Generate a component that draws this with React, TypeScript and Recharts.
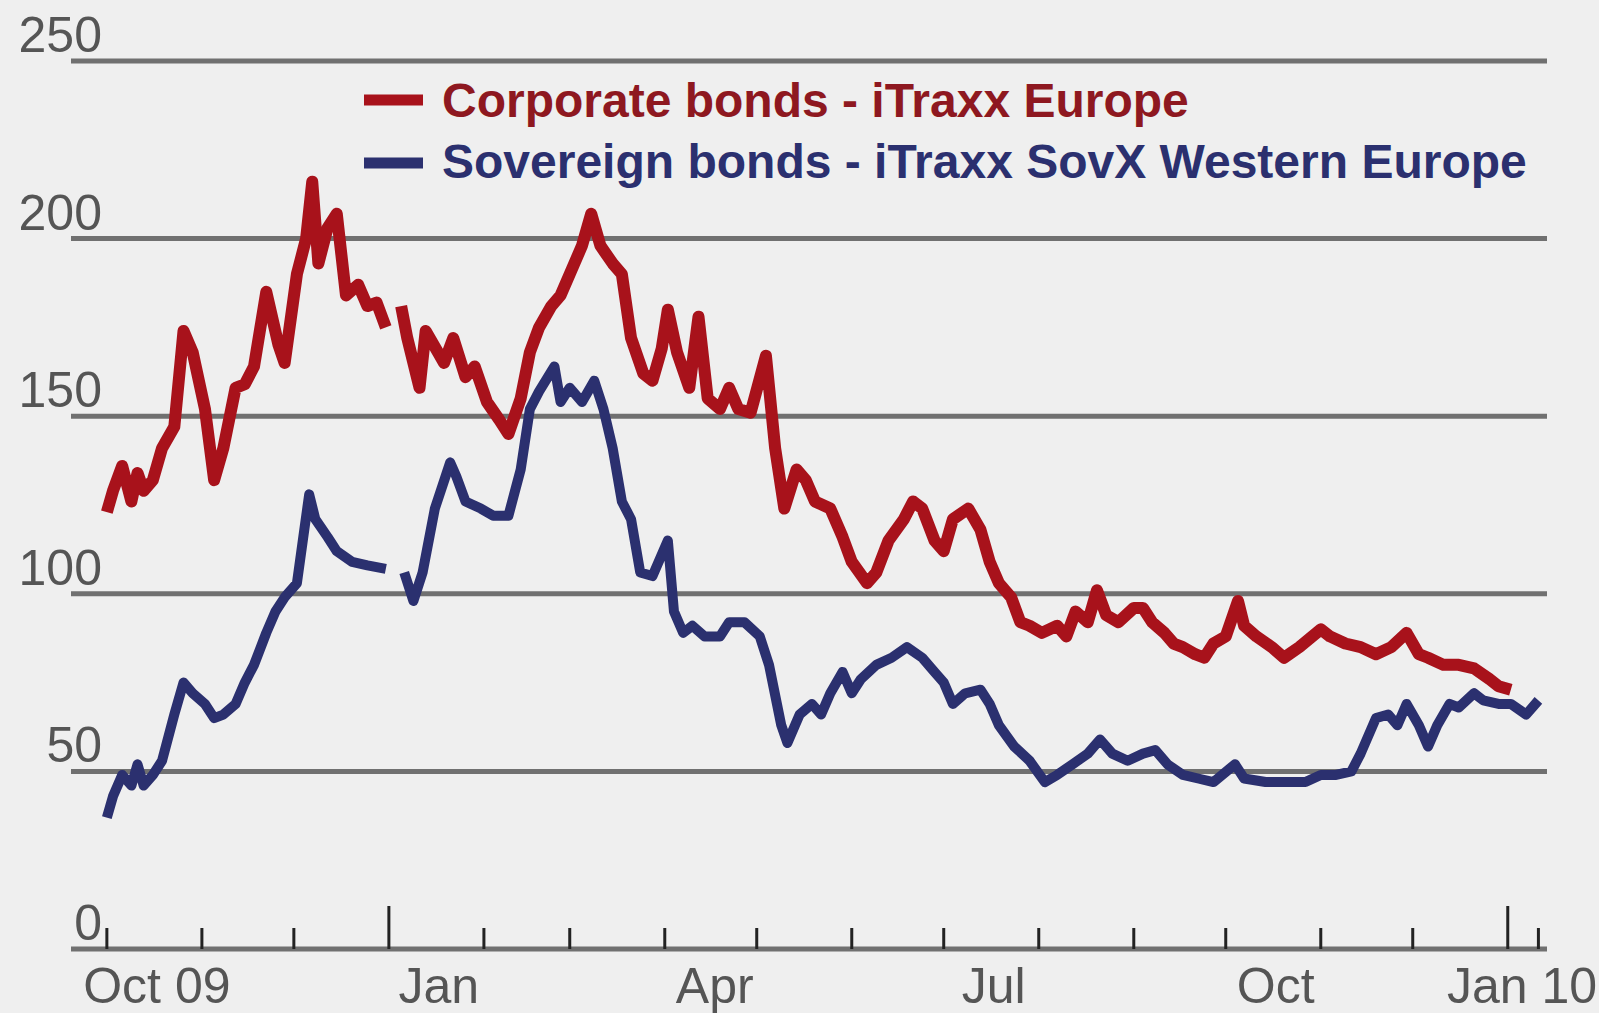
import { CartesianGrid, Line, LineChart, XAxis, YAxis } from "recharts";

// days counted from 1 Oct; null = break in the series
const corpDays = [
  0, 2, 5, 8, 10, 12, 15, 18, 22, 25, 28, 32, 35, 38, 42, 45, 48, 52, 56, 58, 62, 65, 67, 69, 72, 75,
  78, 82, 85, 88, 91, 93, 96, 98, 102, 104, 108, 110, 113, 117, 120, 124, 128, 131, 135, 138, 141,
  145, 148, 151, 155, 158, 161, 165, 168, 171, 175, 178, 181, 183, 186, 190, 193, 196, 200, 203, 206,
  210, 215, 218, 221, 225, 228, 231, 236, 240, 243, 248, 251, 255, 260, 263, 266, 270, 273, 276, 281,
  285, 288, 291, 295, 298, 301, 305, 310, 313, 316, 320, 323, 326, 330, 335, 338, 341, 345, 348, 351,
  355, 358, 361, 365, 369, 371, 375, 380, 384, 389, 396, 399, 404, 409, 414, 419, 424, 428, 431,
  436, 441, 446, 451, 454, 458,
];
const corpValues = [
  123, 129, 136, 126, 134, 129, 132, 141, 147, 174, 168, 152, 132, 141, 158, 159, 164, 185, 170, 165,
  190, 200, 216, 193, 203, 207, 184, 187, 181, 182, 175, null, 181, 172, 158, 174, 168, 165, 172, 161,
  164, 154, 149, 145, 155, 168, 175, 181, 184, 190, 198, 207, 198, 193, 190, 172, 162, 160, 169, 180,
  168, 158, 178, 155, 152, 158, 152, 151, 167, 141, 124, 135, 132, 126, 124, 116, 109, 103, 106, 115,
  121, 126, 124, 115, 112, 121, 124, 118, 109, 103, 99, 92, 91, 89, 91, 88, 95, 92, 101, 94, 92, 96,
  96, 92, 89, 86, 85, 83, 82, 86, 88, 98, 91, 88, 85, 82, 85, 90, 88, 86, 85, 83, 85, 89, 83,
  82, 80, 80, 79, 76, 74, 73,
];

const sovDays = [
  0, 2, 5, 8, 10, 12, 15, 18, 22, 25, 28, 32, 35, 38, 42, 45, 48, 52, 55, 58, 62, 66, 68, 72, 75, 80,
  85, 91, 93, 97, 100, 103, 107, 112, 114, 117, 122, 126, 131, 135, 138, 141, 146, 148, 151, 155, 159,
  162, 165, 168, 171, 174, 178, 183, 185, 188, 191, 195, 200, 203, 208, 213, 216, 220, 222, 226, 230,
  233, 236, 240, 243, 246, 251, 256, 261, 266, 270, 273, 276, 280, 285, 288, 291, 296, 301, 306, 310,
  315, 320, 324, 328, 333, 338, 342, 346, 351, 356, 361, 368, 371, 378, 384, 391, 396, 401, 406,
  409, 414, 418, 421, 424, 428, 431, 434, 438, 441, 446, 449, 454, 458, 463, 467,
];
const sovValues = [
  37, 43, 49, 46, 52, 46, 49, 53, 66, 75, 72, 69, 65, 66, 69, 75, 80, 89, 95, 99, 103, 128, 121, 116,
  112, 109, 108, 107, null, 106, 98, 106, 124, 137, 133, 126, 124, 122, 122, 135, 152, 157, 164, 154,
  158, 154, 160, 152, 141, 126, 121, 106, 105, 115, 95, 89, 91, 88, 88, 92, 92, 88, 80, 63, 58, 66,
  69, 66, 72, 78, 72, 76, 80, 82, 85, 82, 78, 75, 69, 72, 73, 69, 63, 57, 53, 47, 49, 52, 55, 59, 55,
  53, 55, 56, 52, 49, 48, 47, 52, 48, 47, 47, 47, 49, 49, 50, 55, 65, 66, 63, 69, 63, 57, 63,
  69, 68, 72, 70, 69, 69, 66, 70,
];

const monthTicks = [0, 31, 61, 92, 123, 151, 182, 212, 243, 273, 304, 335, 365, 396, 426, 457, 467];
const tallTicks = [92, 457];
const monthLabels: Record<number, string> = {
  0: "Oct 09",
  92: "Jan",
  182: "Apr",
  273: "Jul",
  365: "Oct",
  457: "Jan 10",
};
const yTicks = [0, 50, 100, 150, 200, 250];

const corpData = corpDays.map((day, i) => ({ day, v: corpValues[i] }));
const sovData = sovDays.map((day, i) => ({ day, v: sovValues[i] }));

const RED = "#a8121b";
const BLUE = "#2b306f";
const FONT = "'Liberation Sans', Arial, sans-serif";
const AXIS_Y = 949;

function MonthTick({ x, payload }: any) {
  const v = payload.value as number;
  const len = tallTicks.includes(v) ? 43 : 21;
  const label = monthLabels[v];
  const last = v === 457;
  return (
    <g>
      <line x1={x} x2={x} y1={AXIS_Y} y2={AXIS_Y - len} stroke="#222" strokeWidth={3} />
      {label && (
        <text
          x={last ? 1597 : x + 50}
          y={1003}
          textAnchor={last ? "end" : "middle"}
          fill="#555"
          fontSize={50}
          fontFamily={FONT}
        >
          {label}
        </text>
      )}
    </g>
  );
}

function ValueTick({ y, payload }: any) {
  return (
    <text x={102} y={y - 9} textAnchor="end" fill="#555" fontSize={50} fontFamily={FONT}>
      {payload.value}
    </text>
  );
}

function LegendBox() {
  return (
    <g fontFamily={FONT} fontWeight="bold" fontSize={48}>
      <line x1={364} x2={423} y1={100} y2={100} stroke={RED} strokeWidth={11} />
      <text x={442} y={117} fill="#8e1820">
        Corporate bonds - iTraxx Europe
      </text>
      <line x1={364} x2={423} y1={163} y2={163} stroke={BLUE} strokeWidth={11} />
      <text x={442} y={178} fill={BLUE}>
        Sovereign bonds - iTraxx SovX Western Europe
      </text>
    </g>
  );
}

export default function App() {
  return (
    <div
      style={{
        position: "absolute",
        left: 0,
        top: 0,
        width: 1599,
        height: 1013,
        background: "#efefef",
      }}
    >
      <LineChart width={1599} height={1013} margin={{ top: 61, right: 52, left: 0, bottom: 0 }}>
        <CartesianGrid horizontal vertical={false} stroke="#707070" strokeWidth={5} />
        <XAxis
          type="number"
          dataKey="day"
          domain={[-11.7, 469.8]}
          ticks={monthTicks}
          tick={<MonthTick />}
          axisLine={false}
          tickLine={false}
          height={64}
          allowDataOverflow
          interval={0}
        />
        <YAxis
          domain={[0, 250]}
          ticks={yTicks}
          tick={<ValueTick />}
          axisLine={false}
          tickLine={false}
          width={71}
        />
        <Line
          data={corpData}
          dataKey="v"
          stroke={RED}
          strokeWidth={12}
          dot={false}
          type="linear"
          isAnimationActive={false}
          strokeLinejoin="round"
        />
        <Line
          data={sovData}
          dataKey="v"
          stroke={BLUE}
          strokeWidth={10}
          dot={false}
          type="linear"
          isAnimationActive={false}
          strokeLinejoin="round"
        />
        <LegendBox />
      </LineChart>
    </div>
  );
}
